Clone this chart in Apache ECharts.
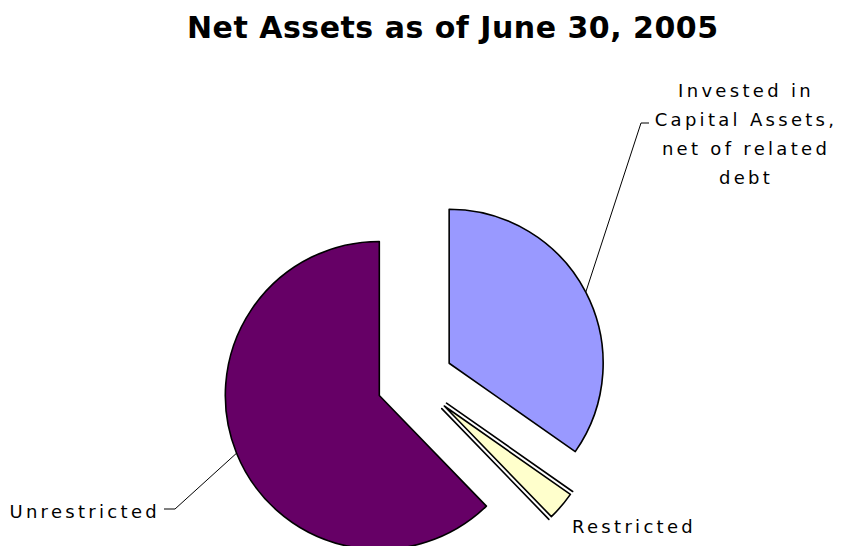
<!DOCTYPE html>
<html><head><meta charset="utf-8">
<script src="https://cdn.jsdelivr.net/npm/echarts@6/dist/echarts.min.js"></script>
<style>html,body{margin:0;background:#fff}#c{width:845px;height:546px}</style>
</head><body><div id="c"></div>
<script>
const categories = ['Invested in\nCapital Assets,\nnet of related\ndebt', 'gap1', 'Restricted', 'gap2', 'Unrestricted'];
const values = [34.73, 0, 3.03, 0, 62.24];
const colors = ['#9999FF', '#FFFFCC', '#FFFFCC', '#FFFFCC', '#660066'];
const titleText = 'Net Assets as of June 30, 2005';

const CENTER = [415, 381], R = 154, EXPLODE = 38.5;
const chart = echarts.init(document.getElementById('c'), null, { renderer: 'svg' });

const pieData = categories.map((n, i) => ({
  name: n, value: values[i], selected: true,
  itemStyle: { color: colors[i] }
}));
const labelData = categories.map((n, i) => ({
  name: n, value: values[i],
  label: { show: !n.startsWith('gap') },
  labelLine: { show: i === 0 || i === 4 }
}));

chart.setOption({
  animation: false,
  title: { text: titleText, left: 182, top: 7,
    textStyle: { fontFamily: 'DejaVu Sans', fontWeight: 'bold', fontSize: 30, color: '#000' } },
  series: [{
    type: 'pie', center: CENTER, radius: R, startAngle: 90, clockwise: true,
    selectedMode: 'multiple', selectedOffset: EXPLODE, avoidLabelOverlap: false,
    minAngle: 0,
    itemStyle: { borderColor: '#000', borderWidth: 1.6 },
    select: { itemStyle: { borderColor: '#000', borderWidth: 1.6 } },
    emphasis: { disabled: true },
    label: { show: false }, labelLine: { show: false },
    data: pieData
  }, {
    type: 'pie', center: CENTER, radius: R + EXPLODE, startAngle: 90, clockwise: true,
    silent: true, avoidLabelOverlap: false, minAngle: 0,
    itemStyle: { color: 'rgba(0,0,0,0)', borderWidth: 0 },
    emphasis: { disabled: true },
    label: { fontFamily: 'DejaVu Sans', fontSize: 18, color: '#000', lineHeight: 29 },
    labelLine: { lineStyle: { color: '#000', width: 1 } },
    labelLayout: function (p) {
      const p0 = p.labelLinePoints ? p.labelLinePoints[0] : null;
      if (p.dataIndex === 0) return { x: 746, y: 134, align: 'center', verticalAlign: 'middle',
        labelLinePoints: [p0, [641, 123], [649, 123]] };
      if (p.dataIndex === 4) return { x: 160, y: 511, align: 'right', verticalAlign: 'middle',
        labelLinePoints: [p0, [175, 509], [164, 509]] };
      if (p.dataIndex === 2) return { x: 572, y: 526, align: 'left', verticalAlign: 'middle' };
      return {};
    },
    data: labelData
  }]
});

function spaceText() {
  document.querySelectorAll('#c svg text').forEach(t => {
    t.style.letterSpacing = (t.textContent === titleText) ? '0.5px' : '3.3px';
  });
}
spaceText();
chart.on('finished', spaceText);
</script></body></html>
